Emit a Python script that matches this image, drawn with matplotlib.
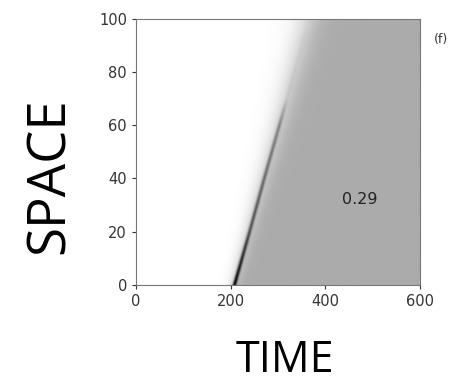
import numpy as np
import matplotlib.pyplot as plt

# front position (time) read along space
space_pts = [0, 20, 40, 60, 70, 100]
front_time = [205, 237, 268, 300, 316, 362]
# strength of the dark edge along the front
edge_dark = [0.8, 0.5, 0.4, 0.3, 0.05, 0.0]
plateau = 0.29
gray_level = 0.67

t = np.linspace(0, 600, 601)
s = np.linspace(0, 100, 401)
T, S = np.meshgrid(t, s)
F = np.interp(S, space_pts, front_time)
D = np.interp(S, space_pts, edge_dark)
width = 7 + 0.1 * S
step = 1.0 / (1.0 + np.exp(-(T - F) / width))
img = 1.0 - (1.0 - gray_level) * step
img -= D * np.exp(-((T - F - 3) / 4.0) ** 2)

fig = plt.figure(figsize=(4.66, 3.84), dpi=100)
ax = fig.add_axes([0.292, 0.258, 0.609, 0.693])
ax.imshow(img, cmap='gray', vmin=0, vmax=1, origin='lower',
          extent=[0, 600, 0, 100], aspect='auto', interpolation='bilinear')
ax.set_xlim(0, 600)
ax.set_ylim(0, 100)
ax.set_xticks([0, 200, 400, 600])
ax.set_yticks([0, 20, 40, 60, 80, 100])
ax.tick_params(labelsize=10.5, length=3, colors='#333333')
for sp in ax.spines.values():
    sp.set_color('#777777')
ax.text(473, 32, str(plateau), fontsize=11.5, ha='center', va='center', color='#222222')
ax.text(1.05, 0.91, '(f)', transform=ax.transAxes, fontsize=9, color='#333333')

fig.text(64 / 466, (384 - 176) / 384, 'SPACE', rotation=90, rotation_mode='anchor',
         fontsize=38, ha='center', va='baseline', family='Open Sans')
fig.text(285 / 466, 1 / 384, 'TIME', fontsize=31, ha='center', va='bottom',
         family='Open Sans')

fig.savefig('out.png', dpi=100)
